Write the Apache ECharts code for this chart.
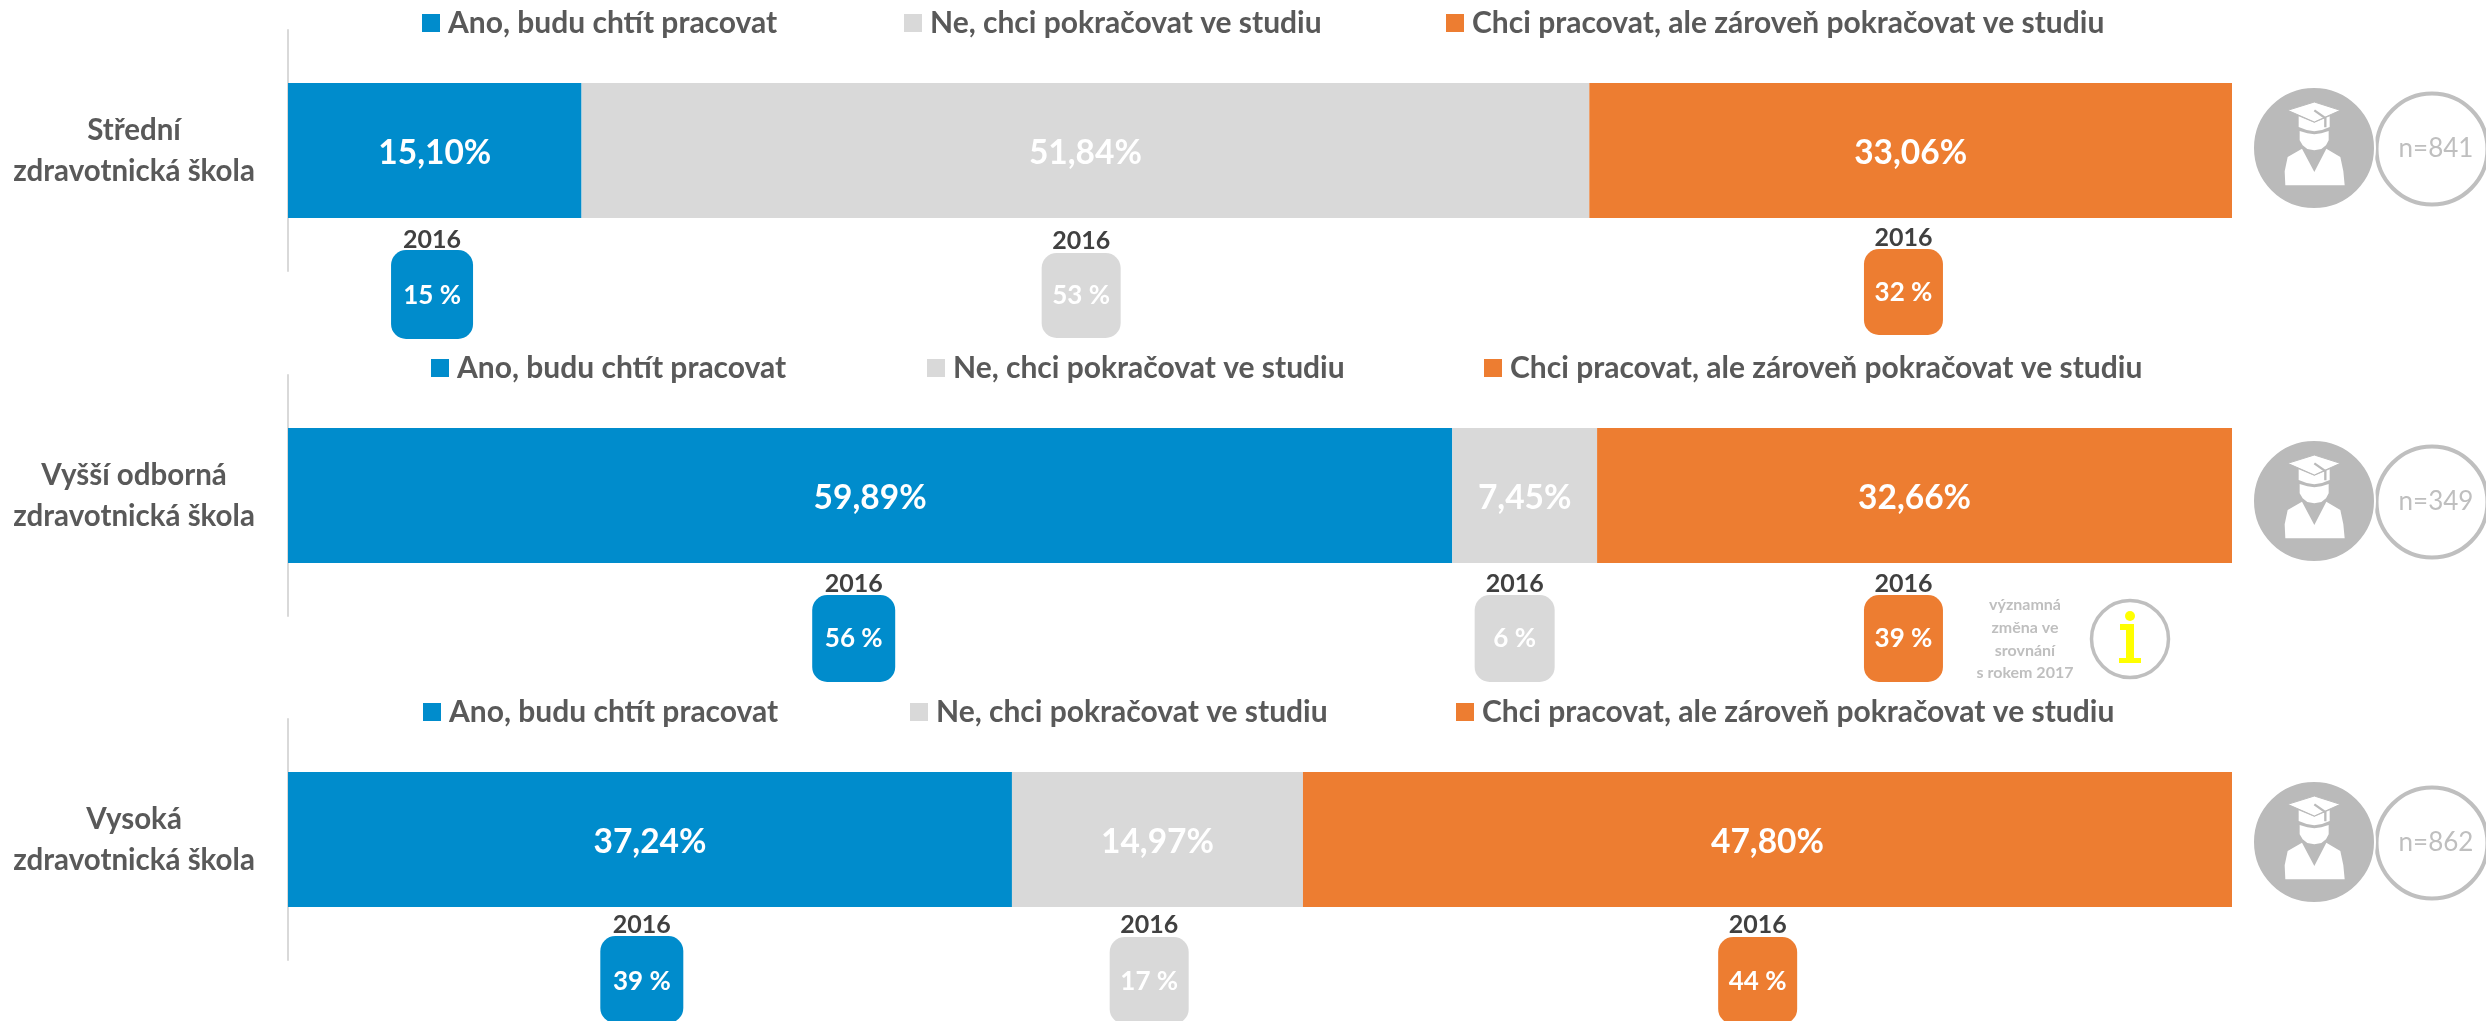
<!DOCTYPE html>
<html><head><meta charset="utf-8">
<style>html,body{margin:0;padding:0;background:#fff}#c{width:2486px;height:1021px}</style>
<script src="https://cdn.jsdelivr.net/npm/echarts@6/dist/echarts.min.js"></script>
</head><body><div id="c"></div>
<script>
// ---- data ----
const schools = ['Střední\nzdravotnická škola', 'Vyšší odborná\nzdravotnická škola', 'Vysoká\nzdravotnická škola'];
const answers = ['Ano, budu chtít pracovat', 'Ne, chci pokračovat ve studiu', 'Chci pracovat, ale zároveň pokračovat ve studiu'];
const yes2017 = [15.10, 59.89, 37.24];
const no2017 = [51.84, 7.45, 14.97];
const both2017 = [33.06, 32.66, 47.80];
const yes2016 = [15, 56, 39];
const no2016 = [53, 6, 17];
const both2016 = [32, 39, 44];
const respondents = [841, 349, 862];
const compareYear = '2016';
const noteText = 'významná\nzměna ve\nsrovnání\ns rokem 2017';

// ---- layout and style ----
const FONT = 'Lato, Carlito, sans-serif';
const colors = ['#008CCC', '#D9D9D9', '#ED7D31'];
const gridTops = [30, 375, 719];
const GRID_LEFT = 288, GRID_W = 1944, GRID_H = 241;
const legendLeft = [[422, 904, 1446], [431, 927, 1484], [423, 910, 1456]];
const legendTop = [8, 353, 697];
const labelPadTop = [3, 6, 5];
const iconCy = [148, 501, 842];
// callout per row/answer: [x on the % axis, box top from bar centre, box height, box width, year y, value y]
const calloutLayout = [
  [[7.41, 100, 89, 82, 90, 146], [40.8, 103, 85, 79, 91, 146], [83.1, 99, 86, 79, 88, 143]],
  [[29.1, 100, 87, 83, 89, 144], [63.1, 100, 87, 80, 89, 144], [83.1, 100, 87, 79, 89, 144]],
  [[18.2, 97, 87, 83, 86, 143], [44.3, 98, 87, 79, 86, 143], [75.6, 98, 87, 79, 86, 143]]
];
const pct = v => v.toFixed(2).replace('.', ',') + '%';

const grids = [], xAxes = [], yAxes = [], series = [], legends = [], graphics = [];
const rows2017 = [yes2017, no2017, both2017];
const rows2016 = [yes2016, no2016, both2016];

// graduate figure outline, in 3x units around the badge centre
const capTop = [[-79,-113],[1,-138],[79,-113],[1,-78]];
const capBand = [[-46,-95],[1,-76],[47,-95],[47,-63],[24,-54],[1,-50],[-22,-54],[-46,-63]];
const face = [[-43,-51],[-20,-44],[1,-41],[22,-44],[44,-51],[44,-23],[36,-8],[22,3],[1,7],[-20,3],[-34,-8],[-43,-23]];
const body = [[-86,112],[-88,70],[-79,27],[-36,2],[1,72],[37,2],[79,27],[88,70],[92,112]];
const tassel = [[1,-113],[34,-90],[34,-62]];
const iGlyph = [[-10,-15],[4,-15],[4,19],[11,19],[11,24],[-11,24],[-11,19],[-4,19],[-4,-9],[-10,-9]];

schools.forEach((school, r) => {
  grids.push({left: GRID_LEFT, top: gridTops[r], width: GRID_W, height: GRID_H});
  xAxes.push({gridIndex: r, type: 'value', min: 0, max: 100, show: false});
  yAxes.push({
    gridIndex: r, type: 'category', data: [school],
    axisTick: {show: false},
    axisLine: {show: true, lineStyle: {color: '#D9D9D9', width: 2}},
    axisLabel: {align: 'center', margin: 154, fontFamily: FONT, fontWeight: 'bold', fontSize: 29.5, color: '#595959', lineHeight: 41, padding: [labelPadTop[r], 0, 0, 0]}
  });
  answers.forEach((name, a) => {
    series.push({
      name, type: 'bar', stack: 's' + r, xAxisIndex: r, yAxisIndex: r, barWidth: 135,
      data: [rows2017[a][r]], itemStyle: {color: colors[a]}, silent: true,
      label: {show: true, position: 'inside', offset: [0, 3], formatter: p => pct(p.value), color: '#fff', fontFamily: FONT, fontWeight: 'bold', fontSize: 33.5}
    });
    legends.push({
      data: [name], left: legendLeft[r][a], top: legendTop[r], padding: 0, icon: 'rect',
      itemWidth: 18, itemHeight: 18, selectedMode: false,
      textStyle: {fontFamily: FONT, fontWeight: 'bold', fontSize: 30, color: '#595959', padding: [0, 0, 0, 3]}
    });
  });
  series.push({
    type: 'custom', xAxisIndex: r, yAxisIndex: r, silent: true, clip: false, z: 5,
    data: answers.map((_, a) => [calloutLayout[r][a][0], 0, a]),
    encode: {x: 0, y: 1},
    renderItem: (params, api) => {
      const a = api.value(2), [, top, h, w, yearY, valueY] = calloutLayout[r][a];
      const pt = api.coord([api.value(0), 0]);
      const cx = pt[0], cy = pt[1] - 0.5;
      return {type: 'group', children: [
        {type: 'rect', shape: {x: cx - w / 2, y: cy + top, width: w, height: h, r: 15}, style: {fill: colors[a]}},
        {type: 'text', style: {x: cx, y: cy + yearY, text: compareYear, align: 'center', verticalAlign: 'middle', font: 'bold 25px ' + FONT, fill: '#404040'}},
        {type: 'text', style: {x: cx, y: cy + valueY, text: rows2016[a][r] + ' %', align: 'center', verticalAlign: 'middle', font: 'bold 26px ' + FONT, fill: '#fff'}}
      ]};
    }
  });
  // graduate badge + respondent ring
  const cy = iconCy[r];
  const CX = 2314;
  graphics.push(
    {type: 'circle', shape: {cx: 2432, cy: cy + 1, r: 55.5}, style: {fill: '#fff', stroke: '#BFBFBF', lineWidth: 4}},
    {type: 'circle', shape: {cx: CX, cy, r: 61}, style: {fill: '#BABABA', stroke: '#fff', lineWidth: 2}},
    {type: 'group', x: CX, y: cy, scaleX: 1 / 3, scaleY: 1 / 3, children: [
      {type: 'polygon', shape: {points: capBand}, style: {fill: '#fff'}},
      {type: 'polygon', shape: {points: capTop}, style: {fill: '#fff', stroke: '#BABABA', lineWidth: 3}},
      {type: 'polygon', shape: {points: face}, style: {fill: '#fff'}},
      {type: 'polygon', shape: {points: body}, style: {fill: '#fff'}},
      {type: 'polyline', shape: {points: tassel}, style: {stroke: '#BABABA', lineWidth: 7, fill: 'none'}}
    ]},
    {type: 'text', x: 2436, y: cy + 1, style: {text: 'n=' + respondents[r], align: 'center', verticalAlign: 'middle', font: '26px ' + FONT, fill: '#BFBFBF'}}
  );
});

// note beside row 2
graphics.push(
  {type: 'text', x: 2025, y: 639, style: {text: noteText, align: 'center', verticalAlign: 'middle', lineHeight: 22.7, font: 'bold 16px ' + FONT, fill: '#BFBFBF'}},
  {type: 'circle', shape: {cx: 2130, cy: 639, r: 38.5}, style: {fill: '#fff', stroke: '#BFBFBF', lineWidth: 3.5}},
  {type: 'group', x: 2130, y: 639, children: [
    {type: 'circle', shape: {cx: 0, cy: -23, r: 5}, style: {fill: '#FFFF00'}},
    {type: 'polygon', shape: {points: iGlyph}, style: {fill: '#FFFF00'}}
  ]}
);

const chart = echarts.init(document.getElementById('c'), null, {renderer: 'canvas'});
chart.setOption({
  animation: false, backgroundColor: '#fff', color: colors,
  grid: grids, xAxis: xAxes, yAxis: yAxes, legend: legends, series, graphic: graphics
});
</script></body></html>
